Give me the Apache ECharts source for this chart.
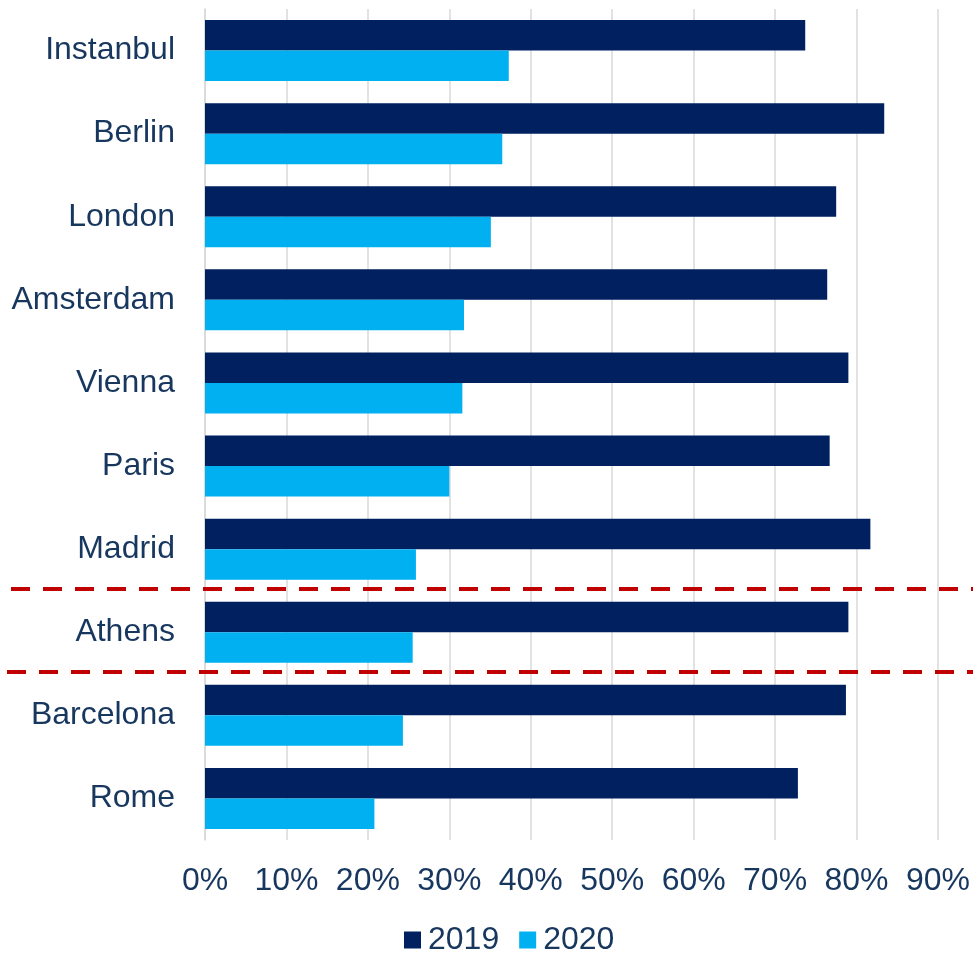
<!DOCTYPE html>
<html>
<head>
<meta charset="utf-8">
<script src="https://cdn.jsdelivr.net/npm/echarts@6/dist/echarts.min.js"></script>
<style>
  html, body { margin: 0; padding: 0; background: #fff; }
  #chart { width: 973px; height: 953px; }
</style>
</head>
<body>
<div id="chart"></div>
<script>
// Hotel occupancy by city, 2019 vs 2020 (share of capacity, %)
const cities = ['Instanbul', 'Berlin', 'London', 'Amsterdam', 'Vienna', 'Paris', 'Madrid', 'Athens', 'Barcelona', 'Rome'];
const values2019 = [73.7, 83.4, 77.5, 76.4, 79.0, 76.7, 81.7, 79.0, 78.7, 72.8];
const values2020 = [37.3, 36.5, 35.1, 31.8, 31.6, 30.0, 25.9, 25.5, 24.3, 20.8];
const seriesNames = ['2019', '2020'];
// Separators drawn between these neighbouring categories
const separatorPairs = [['Madrid', 'Athens'], ['Athens', 'Barcelona']];

const textColor = '#17375E';
const fontFamily = 'Arial, "Liberation Sans", sans-serif';

const chart = echarts.init(document.getElementById('chart'));

chart.setOption({
  animation: false,
  textStyle: { fontFamily: fontFamily },
  grid: { left: 205, right: 35, top: 9, bottom: 113, containLabel: false },
  legend: {
    data: seriesNames,
    bottom: -8,
    left: 399,
    icon: 'rect',
    itemWidth: 17,
    itemHeight: 17,
    itemGap: 20,
    textStyle: { color: textColor, fontSize: 32, fontFamily: fontFamily, padding: [0, 0, 0, 2] }
  },
  xAxis: {
    type: 'value',
    min: 0,
    max: 90,
    interval: 10,
    axisLine: { show: false },
    axisTick: { show: false },
    splitLine: { show: true, lineStyle: { color: '#d9d9d9', width: 1.5 } },
    axisLabel: {
      color: textColor,
      fontSize: 32,
      margin: 25,
      formatter: v => v + '%'
    }
  },
  yAxis: {
    type: 'category',
    data: cities,
    inverse: true,
    axisLine: { show: true, lineStyle: { color: '#d9d9d9', width: 1.5 } },
    axisTick: { show: false },
    axisLabel: { color: textColor, fontSize: 32, margin: 30, padding: [4, 0, 0, 0] }
  },
  series: [
    {
      name: seriesNames[0],
      type: 'bar',
      data: values2019,
      itemStyle: { color: '#002060' },
      barGap: '0%',
      barCategoryGap: '26.6%'
    },
    {
      name: seriesNames[1],
      type: 'bar',
      data: values2020,
      itemStyle: { color: '#00B0F0' },
      barGap: '0%',
      barCategoryGap: '26.6%'
    }
  ]
});

// Red dashed separators placed just above the boundary between neighbouring bands
const separators = separatorPairs.map(([a, b], i) => {
  const ya = chart.convertToPixel({ yAxisIndex: 0 }, a);
  const yb = chart.convertToPixel({ yAxisIndex: 0 }, b);
  const y = Math.round((ya + yb) / 2) - 2;
  return {
    type: 'line',
    z: 100,
    shape: { x1: i === 0 ? 11 : 7, y1: y, x2: 973, y2: y },
    style: { stroke: '#C00000', lineWidth: 4, lineDash: [19, 13] }
  };
});
chart.setOption({ graphic: separators });
</script>
</body>
</html>
